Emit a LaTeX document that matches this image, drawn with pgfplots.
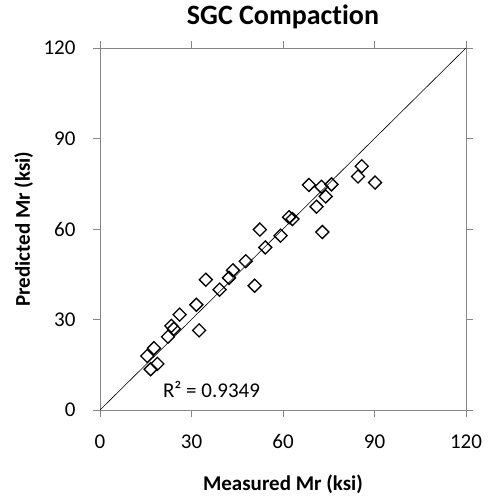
\documentclass[border=0pt]{standalone}
\usepackage{fontspec}
\setmainfont{Carlito}[Ligatures=NoCommon]
\usepackage{pgfplots}
\pgfplotsset{compat=1.18}
\definecolor{axgray}{RGB}{134,134,134}
\begin{document}
\begin{tikzpicture}
\begin{axis}[
  scale only axis,
  width=366pt, height=362pt,
  xmin=0, xmax=120, ymin=0, ymax=120,
  xtick={0,30,...,120}, ytick={0,30,...,120},
  tick align=outside,
  major tick length=7pt,
  axis line style={axgray, line width=0.9pt},
  every tick/.style={axgray, line width=0.9pt},
  tick label style={font=\fontsize{21}{24}\selectfont, /pgf/number format/assume math mode=true},
  xticklabel style={yshift=-14pt},
  yticklabel style={xshift=-14pt},
  title={\textbf{SGC Compaction}},
  title style={font=\fontsize{28}{32}\selectfont, at={(0.5,1.047)}, anchor=base},
  xlabel={\textbf{Measured Mr (ksi)}},
  ylabel={\textbf{Predicted Mr (ksi)}},
  label style={font=\fontsize{21}{24}\selectfont},
  xlabel style={at={(0.5,-0.221)}, anchor=base},
  ylabel style={at={(-0.1913,0.5)}, anchor=base},
  clip=false,
]
\path (rel axis cs:0,0) ++(-100pt,-88pt) rectangle ++(489pt,498pt);
\addplot[black, line width=0.6pt] coordinates {(0,0) (120,120)};
\addplot[only marks, mark=square, mark size=4.6pt,
  mark options={black, line width=1.3pt, rotate=45, fill=none}]
  coordinates {
(15.5,17.9) (17.7,20.5) (16.6,13.5) (18.8,15.3) (22.3,24.3)
(23.4,27.9) (24.2,26.9) (26.1,31.6) (31.6,34.9) (32.5,26.4)
(34.7,43.2) (39.2,39.9) (42.3,43.8) (43.6,46.3) (47.8,49.3)
(50.7,41.2) (52.4,59.8) (54.2,53.9) (59.2,57.8) (62.0,63.9)
(63.1,63.3) (68.5,74.6) (71.0,67.4) (72.6,74.0) (72.9,59.0)
(74.0,70.8) (75.9,74.8) (84.6,77.4) (85.8,80.8) (90.2,75.4)
};
\node[anchor=base west, inner sep=0pt, font=\fontsize{21}{24}\selectfont] at (axis cs:20.6,4.3) {R² = 0.9349};
\end{axis}
\end{tikzpicture}
\end{document}
